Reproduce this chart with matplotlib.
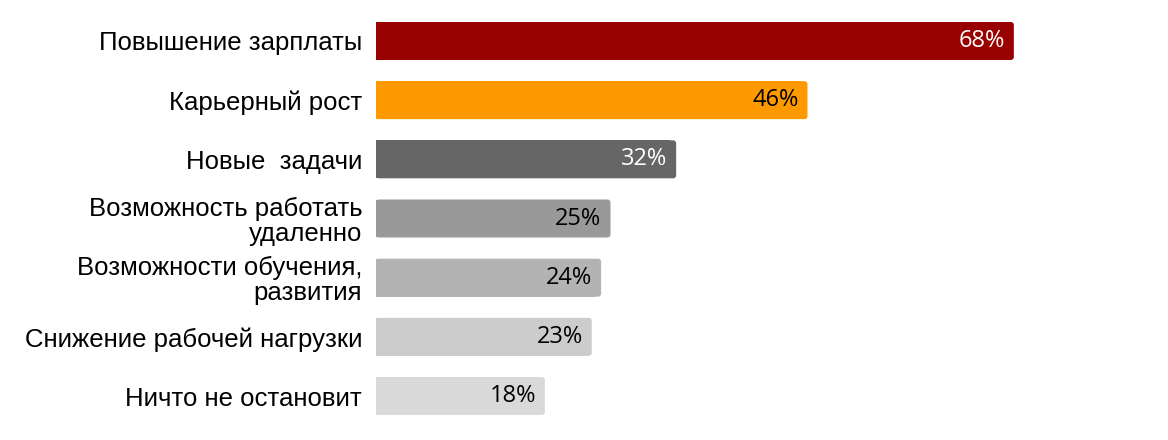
import matplotlib
matplotlib.use('Agg')
import matplotlib.pyplot as plt
from matplotlib.patches import FancyBboxPatch, Rectangle

# данные
categories = ['Повышение зарплаты', 'Карьерный рост', 'Новые  задачи',
              'Возможность работать\nудаленно', 'Возможности обучения,\nразвития',
              'Снижение рабочей нагрузки', 'Ничто не остановит']
values = [68, 46, 32, 25, 24, 23, 18]
colors = ['#990000', '#FF9900', '#666666', '#999999', '#B3B3B3', '#CCCCCC', '#D9D9D9']
text_colors = ['white', 'black', 'white', 'black', 'black', 'black', 'black']

W, H = 1168, 440
fig = plt.figure(figsize=(W / 100, H / 100), dpi=100)
ax = fig.add_axes([376 / W, 0, 1 - 376 / W, 1])

px_x = 9.38    # пикселей на 1%
px_y = 59.2    # пикселей между строками
ax.set_xlim(0, (W - 376) / px_x)
ax.set_ylim(6 + (H - 396) / px_y, -41 / px_y)

bar_h = 38 / px_y
r = 3 / px_x
for i, (v, c) in enumerate(zip(values, colors)):
    y0 = i - bar_h / 2
    ax.add_patch(FancyBboxPatch((0, y0), v, bar_h,
                                boxstyle='round,pad=0,rounding_size=%f' % r,
                                mutation_aspect=px_x / px_y,
                                fc=c, ec='none'))
    ax.add_patch(Rectangle((0, y0), v - 2 * r, bar_h, fc=c, ec='none'))
    ax.text(v - 9 / px_x, i, '%d%%' % v, ha='right', va='center',
            fontsize=17, color=text_colors[i], family='Open Sans')

ax.set_yticks(range(len(categories)))
ax.set_yticklabels(categories, fontsize=18.5, family='Liberation Sans')
for t in ax.get_yticklabels():
    t.set_linespacing(1.05)
ax.tick_params(axis='y', length=0, pad=10)
ax.set_xticks([])
for s in ax.spines.values():
    s.set_visible(False)

fig.savefig('out.png', dpi=100)
